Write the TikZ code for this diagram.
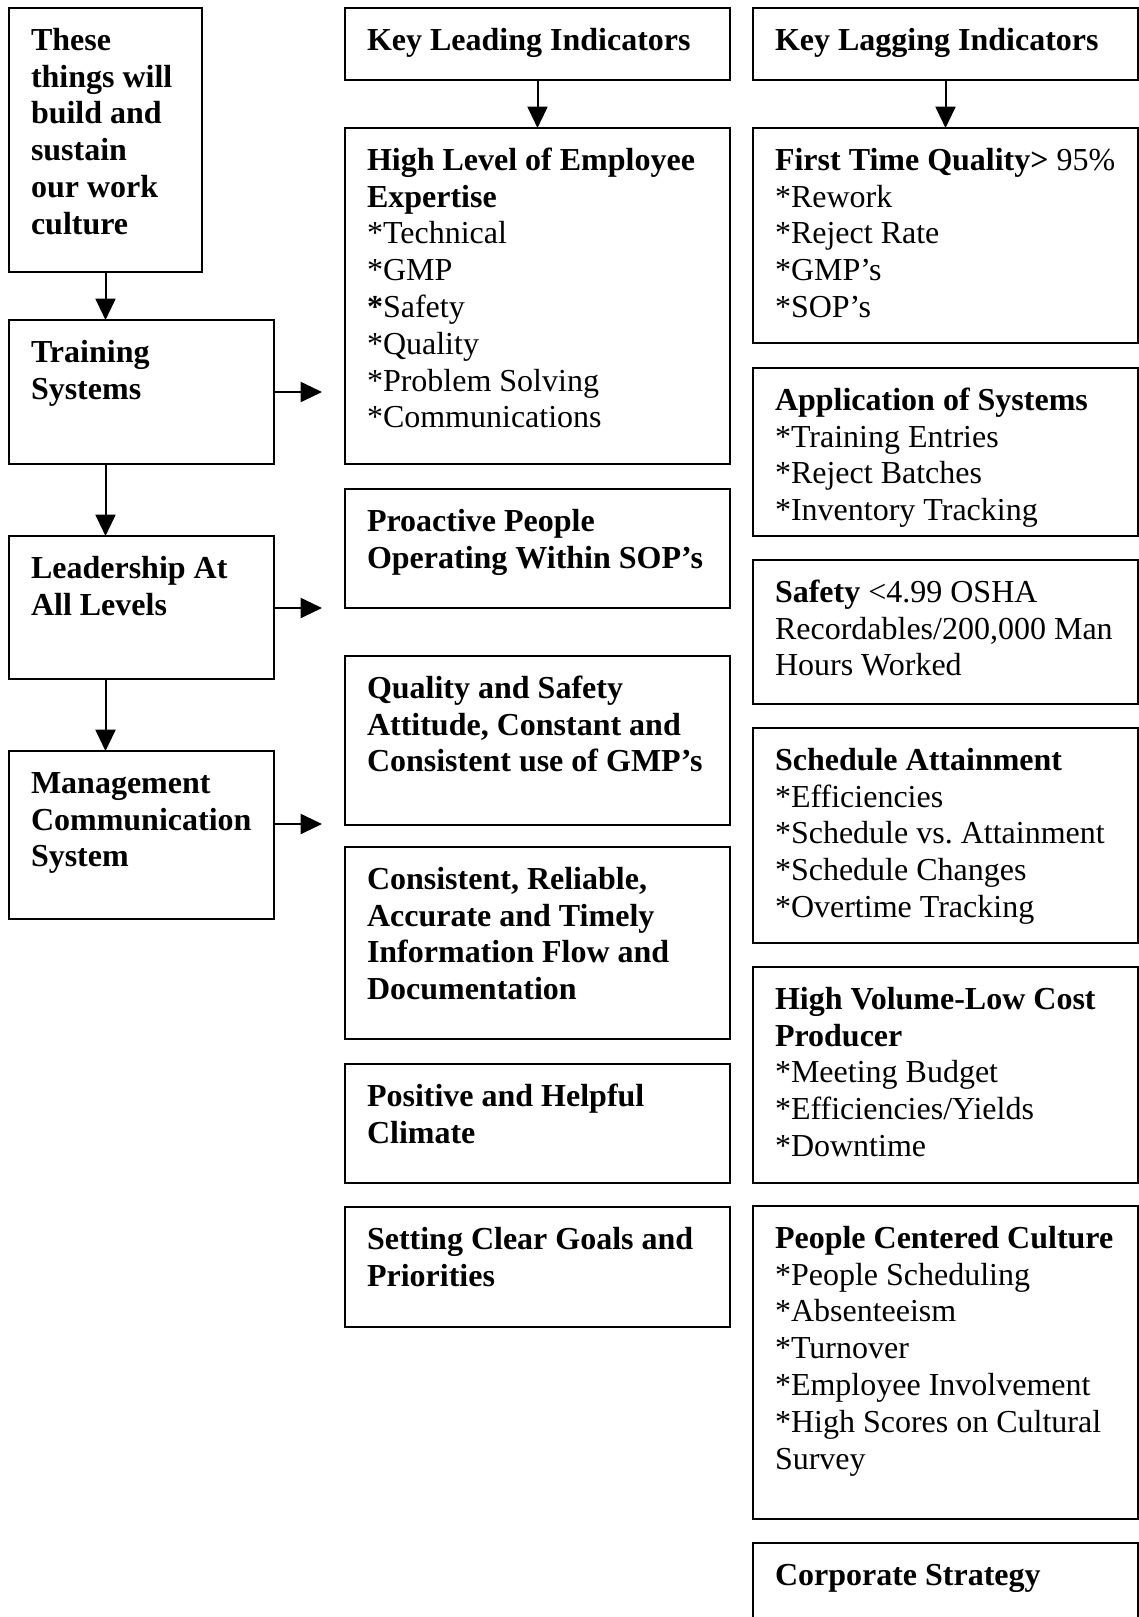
\documentclass[tikz,border=0pt]{standalone}
\usepackage{fontspec}
\setmainfont{Liberation Serif}
\usetikzlibrary{calc,arrows.meta}
\frenchspacing
\tikzset{
  box/.style={draw, line width=0.75pt, rectangle, inner sep=0pt, outer sep=0pt},
  txt/.style={anchor=north west, inner sep=0pt, outer sep=0pt, align=left,
    font=\fontsize{12}{13.8}\selectfont\frenchspacing},
  arr/.style={-{Triangle[length=8pt,width=7.5pt]}, line width=0.75pt},
}
\newcommand\bx[6]{%
  \pgfmathsetlengthmacro\bw{(#4-#2)*0.375pt}%
  \pgfmathsetlengthmacro\bh{(#5-#3)*0.375pt}%
  \node[box, minimum width=\bw, minimum height=\bh, anchor=north west] (#1) at (#2,#3) {};
  \node[txt] (#1-t) at ($(#1.north west)+(22,16.5)$) {\strut#6};
}
\begin{document}
\begin{tikzpicture}[x=0.375pt, y=-0.375pt]
\useasboundingbox (0,0) rectangle (1138,1617);
% left column
\bx{these}{9}{8}{202}{272}{\textbf{These}\\\textbf{things will}\\\textbf{build and}\\\textbf{sustain}\\\textbf{our work}\\\textbf{culture}}
\bx{training}{9}{320}{274}{464}{\textbf{Training}\\\textbf{Systems}}
\bx{leadership}{9}{536}{274}{679}{\textbf{Leadership At}\\\textbf{All Levels}}
\bx{management}{9}{751}{274}{919}{\textbf{Management}\\\textbf{Communication}\\\textbf{System}}
% middle column
\bx{klead}{345}{8}{730}{80}{\textbf{Key Leading Indicators}}
\bx{expertise}{345}{128}{730}{464}{\textbf{High Level of Employee}\\\textbf{Expertise}\\*Technical\\*GMP\\\textbf{*}Safety\\*Quality\\*Problem Solving\\*Communications}
\bx{proactive}{345}{489}{730}{608}{\textbf{Proactive People}\\\textbf{Operating Within SOP’s}}
\bx{qualsafe}{345}{656}{730}{825}{\textbf{Quality and Safety}\\\textbf{Attitude, Constant and}\\\textbf{Consistent use of GMP’s}}
\bx{info}{345}{847}{730}{1039}{\textbf{Consistent, Reliable,}\\\textbf{Accurate and Timely}\\\textbf{Information Flow and}\\\textbf{Documentation}}
\bx{climate}{345}{1064}{730}{1183}{\textbf{Positive and Helpful}\\\textbf{Climate}}
\bx{goals}{345}{1207}{730}{1327}{\textbf{Setting Clear Goals and}\\\textbf{Priorities}}
% right column
\bx{klag}{753}{8}{1138}{80}{\textbf{Key Lagging Indicators}}
\bx{ftq}{753}{128}{1138}{343}{\textbf{First Time Quality>} 95\%\\*Rework\\*Reject Rate\\*GMP’s\\*SOP’s}
\bx{appsys}{753}{368}{1138}{536}{\textbf{Application of Systems}\\*Training Entries\\*Reject Batches\\*Inventory Tracking}
\bx{safety}{753}{560}{1138}{704}{\textbf{Safety} <4.99 OSHA\\Recordables/200,000 Man\\Hours Worked}
\bx{sched}{753}{728}{1138}{943}{\textbf{Schedule Attainment}\\*Efficiencies\\*Schedule vs. Attainment\\*Schedule Changes\\*Overtime Tracking}
\bx{volume}{753}{967}{1138}{1183}{\textbf{High Volume-Low Cost}\\\textbf{Producer}\\*Meeting Budget\\*Efficiencies/Yields\\*Downtime}
\bx{people}{753}{1206}{1138}{1519}{\textbf{People Centered Culture}\\*People Scheduling\\*Absenteeism\\*Turnover\\*Employee Involvement\\*High Scores on Cultural\\Survey}
\bx{corp}{753}{1543}{1138}{1622}{\textbf{Corporate Strategy}}
% connectors
\draw[arr] (these.south) -- (these.south |- training.north);
\draw[arr] (these.south |- training.south) -- (these.south |- leadership.north);
\draw[arr] (these.south |- leadership.south) -- (these.south |- management.north);
\draw[arr] (klead.south) -- (expertise.north);
\draw[arr] (klag.south) -- (ftq.north);
\coordinate (e1) at (322,392);
\coordinate (e2) at (322,608);
\coordinate (e3) at (322,824);
\draw[arr] (training.east |- e1) -- (e1);
\draw[arr] (leadership.east |- e2) -- (e2);
\draw[arr] (management.east |- e3) -- (e3);
\end{tikzpicture}
\end{document}
